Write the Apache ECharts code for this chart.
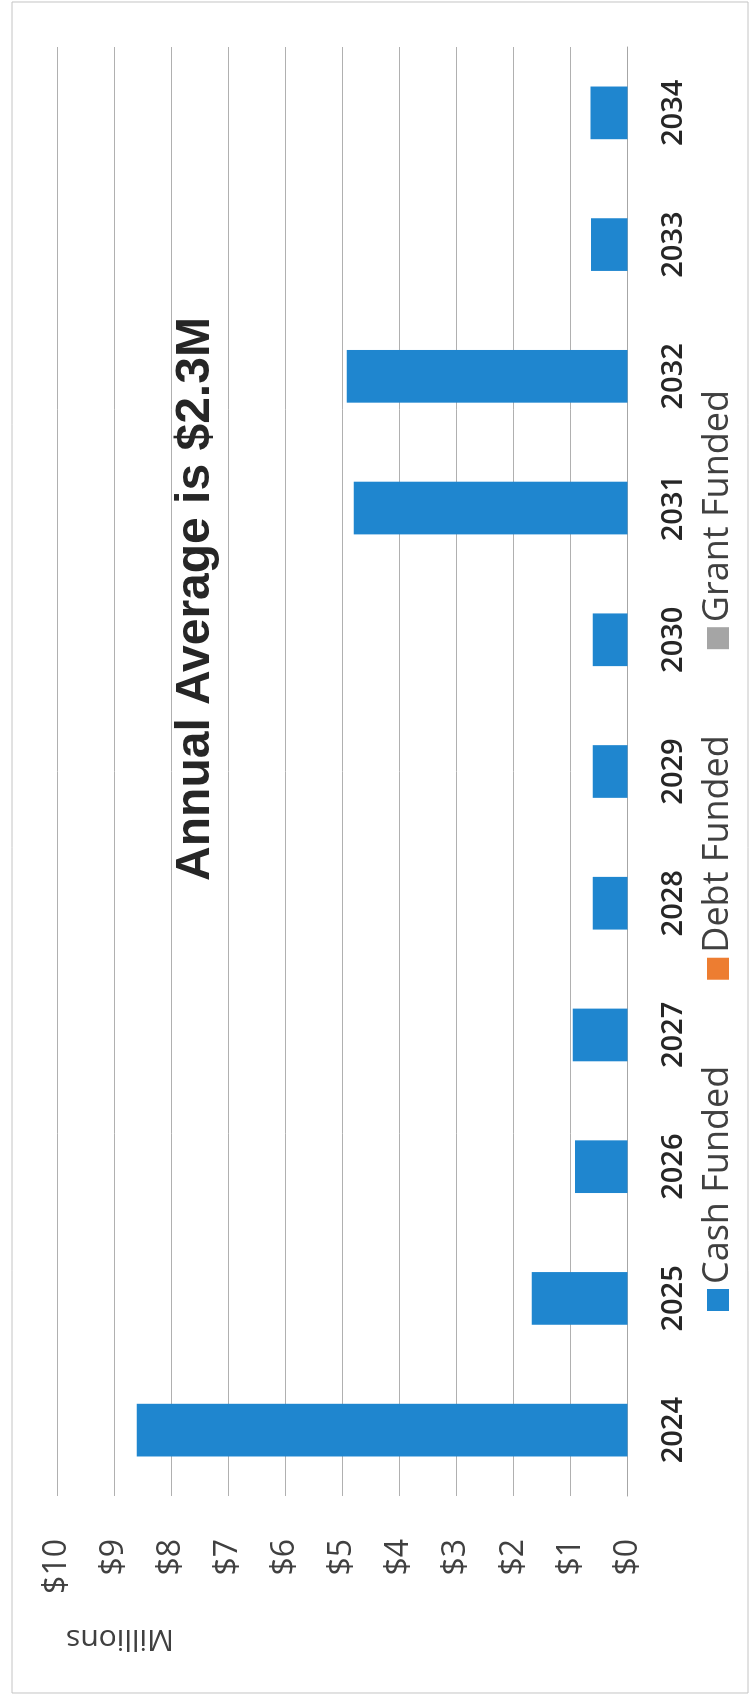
<!DOCTYPE html>
<html>
<head>
<meta charset="utf-8">
<script src="https://cdn.jsdelivr.net/npm/echarts@6/dist/echarts.min.js"></script>
<style>
  html, body { margin: 0; padding: 0; background: #ffffff; overflow: hidden; width: 752px; height: 1699px; }
  #wrap {
    position: absolute; left: 0; top: 0;
    width: 1699px; height: 752px;
    transform-origin: 0 0;
    transform: translateY(1699px) rotate(-90deg);
  }
  #chart { width: 1699px; height: 752px; }
</style>
</head>
<body>
<div id="wrap"><div id="chart"></div></div>
<script>
// ---- data ----
const years = ['2024', '2025', '2026', '2027', '2028', '2029', '2030', '2031', '2032', '2033', '2034'];
const cashFunded  = [8.6, 1.68, 0.92, 0.96, 0.61, 0.61, 0.61, 4.80, 4.92, 0.64, 0.65];
const debtFunded  = [0, 0, 0, 0, 0, 0, 0, 0, 0, 0, 0];
const grantFunded = [0, 0, 0, 0, 0, 0, 0, 0, 0, 0, 0];
const seriesNames = ['Cash Funded', 'Debt Funded', 'Grant Funded'];
const titleText = 'Annual Average is $2.3M';
const unitLabel = 'Millions';
const valueMin = 0, valueMax = 10, valueStep = 1;

// ---- chart ----
const chart = echarts.init(document.getElementById('chart'), null, { renderer: 'canvas', width: 1699, height: 752 });
const colors = ['#1f86cf', '#ed7d31', '#a5a5a5'];
const datasets = [cashFunded, debtFunded, grantFunded];

chart.setOption({
  animation: false,
  backgroundColor: '#ffffff',
  color: colors,
  title: {
    text: titleText,
    left: 1100, top: 172, textAlign: 'center', padding: 0,
    textStyle: { fontFamily: 'Liberation Sans, Arial, sans-serif', fontSize: 48, fontWeight: 'bold', color: '#262626' }
  },
  legend: {
    data: seriesNames,
    left: 388, top: 700, padding: 0,
    itemWidth: 22, itemHeight: 22, itemGap: 86,
    icon: 'rect',
    textStyle: { fontFamily: 'Open Sans, sans-serif', fontSize: 36, color: '#404040' }
  },
  grid: { left: 203, right: 47, top: 57, bottom: 124.5, containLabel: false },
  xAxis: {
    type: 'category',
    data: years,
    axisLine: { show: true, lineStyle: { color: '#a6a6a6', width: 1 } },
    axisTick: { show: false },
    axisLabel: { margin: 32, fontFamily: 'Open Sans, sans-serif', fontSize: 29, fontWeight: 600, color: '#262626' }
  },
  yAxis: {
    type: 'value',
    min: valueMin, max: valueMax, interval: valueStep,
    axisLine: { show: false },
    axisTick: { show: false },
    splitLine: { show: true, lineStyle: { color: '#b0b0b0', width: 1 } },
    axisLabel: {
      margin: 43,
      formatter: function (v) { return '$' + v; },
      fontFamily: 'Open Sans, sans-serif', fontSize: 32, color: '#404040'
    }
  },
  series: seriesNames.map(function (name, i) {
    return {
      name: name,
      type: 'bar',
      stack: 'total',
      barCategoryGap: '60%',
      data: datasets[i],
      itemStyle: { color: colors[i] }
    };
  }),
  graphic: [
    {
      type: 'text',
      x: 60, y: 120,
      rotation: Math.PI / 2,
      style: {
        text: unitLabel,
        fontFamily: 'Open Sans, sans-serif', fontSize: 30, fill: '#404040',
        align: 'center', verticalAlign: 'middle'
      }
    },
    {
      type: 'rect',
      shape: { x: 6, y: 12, width: 1691, height: 736 },
      style: { fill: 'none', stroke: '#c4c4c4', lineWidth: 1 },
      silent: true
    }
  ]
});
</script>
</body>
</html>
